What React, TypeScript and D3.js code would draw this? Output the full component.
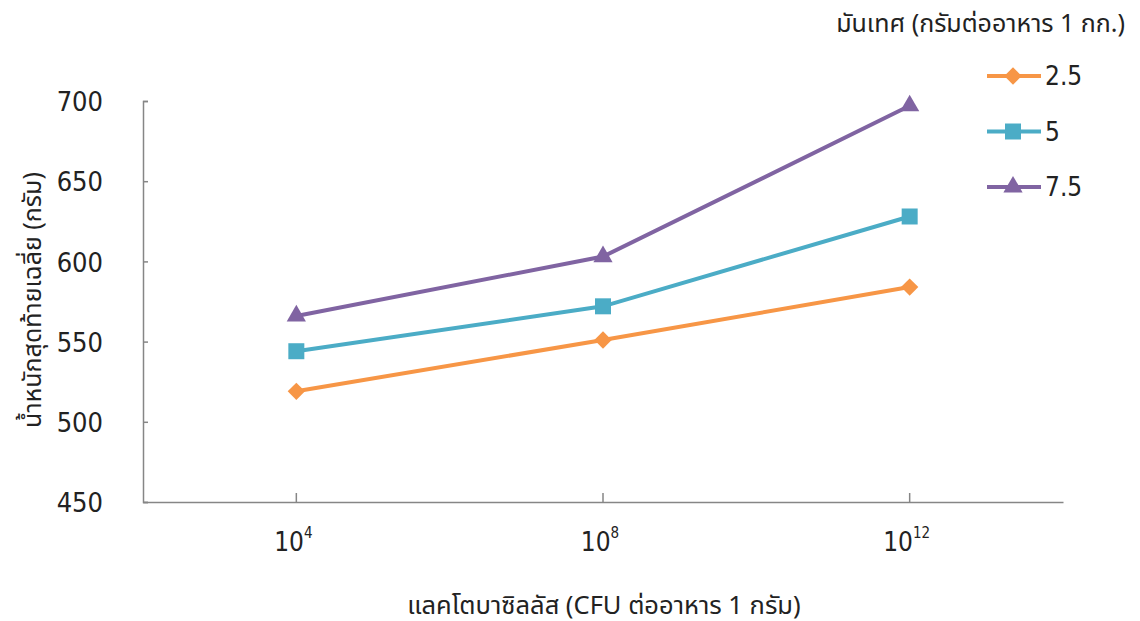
import { useEffect, useRef } from 'react'
import * as d3 from 'd3'

const categories = ['4', '8', '12']
const seriesNames = ['2.5', '5', '7.5']
const seriesA = [519, 551, 584]
const seriesB = [544, 572, 628]
const seriesC = [566, 603, 697]
const yTicks = [450, 500, 550, 600, 650, 700]
const colors = ['#F79646', '#4BACC6', '#8064A2']

const W = 1140
const H = 621
const THAI = '"Noto Sans", "Noto Sans Thai", sans-serif'
const NUM = '"DejaVu Sans Condensed", "DejaVu Sans", sans-serif'

// marker shapes: diamond = rotated square
const markerPath = [
  d3.symbol().type(d3.symbolSquare).size(150)(),
  d3.symbol().type(d3.symbolSquare).size(256)(),
  d3.symbol().type(d3.symbolTriangle).size(160)(),
]
const markerRot = [45, 0, 0]

const App = () => {
  const svgRef = useRef(null)

  useEffect(() => {
    const svg = d3.select(svgRef.current)
    svg.selectAll('*').remove()

    const left = 143
    const right = 1063
    const top = 101
    const bottom = 502

    const x = d3.scaleBand<string>().domain(categories).range([left, right])
    const y = d3.scaleLinear().domain([450, 700]).range([bottom, top])
    const cx = (i: number) => x(categories[i])! + x.bandwidth() / 2
    const all = [seriesA, seriesB, seriesC]

    // y axis
    const gy = svg.append('g').attr('transform', `translate(${left},0)`)
    gy.call(d3.axisLeft(y).tickValues(yTicks).tickSize(-5).tickPadding(40))
    gy.select('.domain').attr('stroke', '#868686').attr('stroke-width', 1.5)
    gy.selectAll('.tick line').attr('stroke', '#868686').attr('stroke-width', 1.5)
    gy.selectAll('.tick text')
      .attr('font-family', NUM)
      .attr('font-size', 27)
      .attr('fill', '#222')
      .attr('dy', '0.36em')

    // x axis
    const gx = svg.append('g').attr('transform', `translate(0,${bottom})`)
    gx.call(d3.axisBottom(x).tickSize(-9).tickSizeOuter(0).tickFormat(() => ''))
    gx.select('.domain').attr('stroke', '#868686').attr('stroke-width', 1.5)
    gx.selectAll('.tick line').attr('stroke', '#868686').attr('stroke-width', 1.5)

    categories.forEach((c, i) => {
      const t = svg
        .append('text')
        .attr('x', cx(i) - 3)
        .attr('y', 551)
        .attr('text-anchor', 'middle')
        .attr('font-family', NUM)
        .attr('font-size', 26)
        .attr('fill', '#222')
      t.append('tspan').text('10')
      t.append('tspan').attr('dy', -13).attr('font-size', 15).text(c)
    })

    // titles
    svg
      .append('text')
      .attr('x', 604)
      .attr('y', 614)
      .attr('text-anchor', 'middle')
      .attr('font-family', THAI)
      .attr('font-size', 25.5)
      .attr('fill', '#222')
      .text('แลคโตบาซิลลัส (CFU ต่ออาหาร 1 กรัม)')

    svg
      .append('text')
      .attr('transform', `translate(41,300) rotate(-90)`)
      .attr('text-anchor', 'middle')
      .attr('font-family', THAI)
      .attr('font-size', 25)
      .attr('fill', '#222')
      .text('น้ำหนักสุดท้ายเฉลี่ย (กรัม)')

    // lines
    const line = d3
      .line<number>()
      .x((_, i) => cx(i))
      .y((d) => y(d))

    all.forEach((s, si) => {
      svg
        .append('path')
        .datum(s)
        .attr('d', line)
        .attr('fill', 'none')
        .attr('stroke', colors[si])
        .attr('stroke-width', 4)
      svg
        .selectAll(null)
        .data(s)
        .enter()
        .append('path')
        .attr('d', markerPath[si])
        .attr('transform', (d, i) => `translate(${cx(i)},${y(d)}) rotate(${markerRot[si]})`)
        .attr('fill', colors[si])
    })

    // legend
    svg
      .append('text')
      .attr('x', 1125)
      .attr('y', 32)
      .attr('text-anchor', 'end')
      .attr('font-family', THAI)
      .attr('font-size', 25)
      .attr('fill', '#222')
      .text('มันเทศ (กรัมต่ออาหาร 1 กก.)')

    const legendY = d3.scalePoint<string>().domain(seriesNames).range([76, 187])
    seriesNames.forEach((n, si) => {
      const ly = legendY(n)!
      svg
        .append('line')
        .attr('x1', 987)
        .attr('x2', 1041)
        .attr('y1', ly)
        .attr('y2', ly)
        .attr('stroke', colors[si])
        .attr('stroke-width', 4)
      svg
        .append('path')
        .attr('d', markerPath[si])
        .attr('transform', `translate(1013,${ly}) rotate(${markerRot[si]})`)
        .attr('fill', colors[si])
      svg
        .append('text')
        .attr('x', 1045)
        .attr('y', ly)
        .attr('dy', '0.36em')
        .attr('font-family', NUM)
        .attr('font-size', 26)
        .attr('fill', '#222')
        .text(n)
    })
  }, [])

  return (
    <svg
      ref={svgRef}
      width={W}
      height={H}
      style={{ position: 'absolute', left: 0, top: 0, display: 'block', background: '#fff' }}
    />
  )
}

export default App
